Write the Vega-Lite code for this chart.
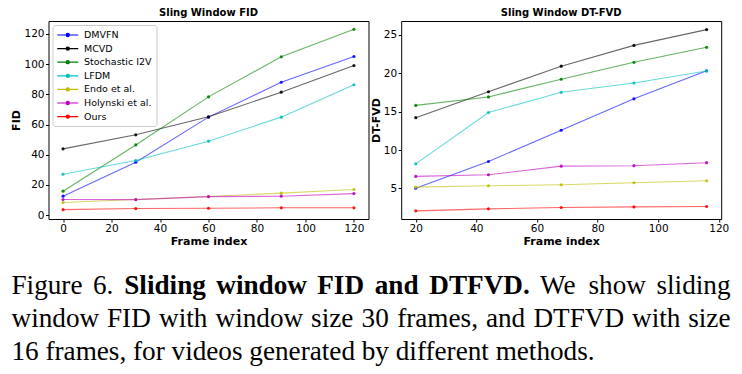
{
  "$schema": "https://vega.github.io/schema/vega-lite/v6.json",
  "padding": {"left": 9.5, "top": 7, "right": 0, "bottom": 0},
  "autosize": {"type": "pad"},
  "background": "white",
  "datasets": {
    "fid": [
      {"method": "DMVFN", "frame": 0, "value": 12.6}, {"method": "DMVFN", "frame": 30, "value": 35.1}, {"method": "DMVFN", "frame": 60, "value": 64.9}, {"method": "DMVFN", "frame": 90, "value": 88.0}, {"method": "DMVFN", "frame": 120, "value": 105.0},
      {"method": "MCVD", "frame": 0, "value": 43.9}, {"method": "MCVD", "frame": 30, "value": 53.2}, {"method": "MCVD", "frame": 60, "value": 65.1}, {"method": "MCVD", "frame": 90, "value": 81.4}, {"method": "MCVD", "frame": 120, "value": 99.0},
      {"method": "Stochastic I2V", "frame": 0, "value": 15.9}, {"method": "Stochastic I2V", "frame": 30, "value": 46.5}, {"method": "Stochastic I2V", "frame": 60, "value": 78.3}, {"method": "Stochastic I2V", "frame": 90, "value": 104.8}, {"method": "Stochastic I2V", "frame": 120, "value": 123.0},
      {"method": "LFDM", "frame": 0, "value": 27.1}, {"method": "LFDM", "frame": 30, "value": 36.2}, {"method": "LFDM", "frame": 60, "value": 49.0}, {"method": "LFDM", "frame": 90, "value": 64.9}, {"method": "LFDM", "frame": 120, "value": 86.3},
      {"method": "Endo et al.", "frame": 0, "value": 8.4}, {"method": "Endo et al.", "frame": 30, "value": 10.4}, {"method": "Endo et al.", "frame": 60, "value": 12.4}, {"method": "Endo et al.", "frame": 90, "value": 14.6}, {"method": "Endo et al.", "frame": 120, "value": 17.0},
      {"method": "Holynski et al.", "frame": 0, "value": 10.4}, {"method": "Holynski et al.", "frame": 30, "value": 10.3}, {"method": "Holynski et al.", "frame": 60, "value": 12.3}, {"method": "Holynski et al.", "frame": 90, "value": 12.6}, {"method": "Holynski et al.", "frame": 120, "value": 14.3},
      {"method": "Ours", "frame": 0, "value": 3.7}, {"method": "Ours", "frame": 30, "value": 4.4}, {"method": "Ours", "frame": 60, "value": 4.6}, {"method": "Ours", "frame": 90, "value": 4.9}, {"method": "Ours", "frame": 120, "value": 4.9}
    ],
    "fvd": [
      {"method": "DMVFN", "frame": 20, "value": 5.04}, {"method": "DMVFN", "frame": 44, "value": 8.5}, {"method": "DMVFN", "frame": 68, "value": 12.57}, {"method": "DMVFN", "frame": 92, "value": 16.65}, {"method": "DMVFN", "frame": 116, "value": 20.3},
      {"method": "MCVD", "frame": 20, "value": 14.2}, {"method": "MCVD", "frame": 44, "value": 17.57}, {"method": "MCVD", "frame": 68, "value": 20.9}, {"method": "MCVD", "frame": 92, "value": 23.6}, {"method": "MCVD", "frame": 116, "value": 25.65},
      {"method": "Stochastic I2V", "frame": 20, "value": 15.8}, {"method": "Stochastic I2V", "frame": 44, "value": 16.9}, {"method": "Stochastic I2V", "frame": 68, "value": 19.2}, {"method": "Stochastic I2V", "frame": 92, "value": 21.4}, {"method": "Stochastic I2V", "frame": 116, "value": 23.35},
      {"method": "LFDM", "frame": 20, "value": 8.2}, {"method": "LFDM", "frame": 44, "value": 14.87}, {"method": "LFDM", "frame": 68, "value": 17.5}, {"method": "LFDM", "frame": 92, "value": 18.7}, {"method": "LFDM", "frame": 116, "value": 20.26},
      {"method": "Endo et al.", "frame": 20, "value": 5.17}, {"method": "Endo et al.", "frame": 44, "value": 5.35}, {"method": "Endo et al.", "frame": 68, "value": 5.48}, {"method": "Endo et al.", "frame": 92, "value": 5.74}, {"method": "Endo et al.", "frame": 116, "value": 6.0},
      {"method": "Holynski et al.", "frame": 20, "value": 6.57}, {"method": "Holynski et al.", "frame": 44, "value": 6.78}, {"method": "Holynski et al.", "frame": 68, "value": 7.9}, {"method": "Holynski et al.", "frame": 92, "value": 7.96}, {"method": "Holynski et al.", "frame": 116, "value": 8.35},
      {"method": "Ours", "frame": 20, "value": 2.09}, {"method": "Ours", "frame": 44, "value": 2.35}, {"method": "Ours", "frame": 68, "value": 2.52}, {"method": "Ours", "frame": 92, "value": 2.6}, {"method": "Ours", "frame": 116, "value": 2.65}
    ],
    "blank": [{"k": 1}]
  },
  "config": {
    "font": "DejaVu Sans",
    "view": {"stroke": "black", "strokeWidth": 1},
    "axis": {"grid": false, "domain": false, "tickColor": "black", "tickSize": 3, "labelColor": "black", "labelFontSize": 10.5, "labelFont": "DejaVu Sans", "titleFont": "DejaVu Sans", "titleFontWeight": "bold", "titleFontSize": 11, "titleColor": "black", "labelPadding": 1.5},
    "axisX": {"titlePadding": 1},
    "axisY": {"titlePadding": 2},
    "title": {"fontSize": 10, "fontWeight": "bold", "font": "DejaVu Sans", "color": "black", "offset": 3},
    "text": {"font": "Liberation Serif", "fontSize": 27.2, "color": "black", "baseline": "alphabetic", "align": "left"}
  },
  "spacing": 32.7,
  "bounds": "flush",
  "resolve": {"legend": {"color": "independent"}},
  "hconcat": [
    {
      "width": 320,
      "height": 198,
      "title": "Sling Window FID",
      "layer": [
        {
          "data": {"name": "fid"},
          "mark": {"type": "line", "strokeWidth": 1.1, "opacity": 0.6, "point": {"filled": true, "size": 10, "opacity": 0.9}},
          "encoding": {
            "x": {"field": "frame", "type": "quantitative", "scale": {"domain": [-6, 126], "nice": false, "zero": false}, "axis": {"values": [0, 20, 40, 60, 80, 100, 120], "title": "Frame index"}},
            "y": {"field": "value", "type": "quantitative", "scale": {"domain": [-2.5, 128.5], "nice": false, "zero": false}, "axis": {"values": [0, 20, 40, 60, 80, 100, 120], "title": "FID"}},
            "color": {
              "field": "method", "type": "nominal",
              "scale": {"domain": ["DMVFN", "MCVD", "Stochastic I2V", "LFDM", "Endo et al.", "Holynski et al.", "Ours"], "range": ["#0000ff", "#000000", "#008000", "#00bfbf", "#bfbf00", "#bf00bf", "#ff0000"]},
              "legend": {
                "orient": "top-left", "offset": 4, "title": null, "padding": 4,
                "strokeColor": "#cccccc", "fillColor": "rgba(255,255,255,0.8)", "cornerRadius": 3,
                "labelFontSize": 9.5, "labelFont": "DejaVu Sans", "labelColor": "black",
                "symbolType": "M-2,0H2M-0.3,0A0.3,0.3,0,1,1,0.3,0A0.3,0.3,0,1,1,-0.3,0Z",
                "symbolSize": 110, "symbolStrokeWidth": 1.2, "symbolOpacity": 1,
                "symbolOffset": 5.25, "labelOffset": 10.25, "rowPadding": 2.6
              }
            }
          }
        },
        {"data": {"name": "blank"}, "mark": {"type": "text", "text": "Figure", "x": -37, "y": 272.5}},
        {"data": {"name": "blank"}, "mark": {"type": "text", "text": "6.", "x": 44.5, "y": 272.5}},
        {"data": {"name": "blank"}, "mark": {"type": "text", "text": "Sliding", "x": 75.75, "y": 272.5, "fontWeight": "bold"}},
        {"data": {"name": "blank"}, "mark": {"type": "text", "text": "window", "x": 167.75, "y": 272.5, "fontWeight": "bold"}},
        {"data": {"name": "blank"}, "mark": {"type": "text", "text": "FID", "x": 268.75, "y": 272.5, "fontWeight": "bold"}},
        {"data": {"name": "blank"}, "mark": {"type": "text", "text": "and", "x": 326.25, "y": 272.5, "fontWeight": "bold"}},
        {"data": {"name": "blank"}, "mark": {"type": "text", "text": "DTFVD.", "x": 380.75, "y": 272.5, "fontWeight": "bold"}},
        {"data": {"name": "blank"}, "mark": {"type": "text", "text": "We", "x": 491.5, "y": 272.5}},
        {"data": {"name": "blank"}, "mark": {"type": "text", "text": "show", "x": 540, "y": 272.5}},
        {"data": {"name": "blank"}, "mark": {"type": "text", "text": "sliding", "x": 682, "y": 272.5, "align": "right"}},
        {"data": {"name": "blank"}, "mark": {"type": "text", "text": "window", "x": -37, "y": 305.5}},
        {"data": {"name": "blank"}, "mark": {"type": "text", "text": "FID", "x": 58.5, "y": 305.5}},
        {"data": {"name": "blank"}, "mark": {"type": "text", "text": "with", "x": 110.5, "y": 305.5}},
        {"data": {"name": "blank"}, "mark": {"type": "text", "text": "window", "x": 167, "y": 305.5}},
        {"data": {"name": "blank"}, "mark": {"type": "text", "text": "size", "x": 262.6, "y": 305.5}},
        {"data": {"name": "blank"}, "mark": {"type": "text", "text": "30", "x": 313.1, "y": 305.5}},
        {"data": {"name": "blank"}, "mark": {"type": "text", "text": "frames,", "x": 348.7, "y": 305.5}},
        {"data": {"name": "blank"}, "mark": {"type": "text", "text": "and", "x": 437.4, "y": 305.5}},
        {"data": {"name": "blank"}, "mark": {"type": "text", "text": "DTFVD", "x": 484.9, "y": 305.5}},
        {"data": {"name": "blank"}, "mark": {"type": "text", "text": "with", "x": 583.5, "y": 305.5}},
        {"data": {"name": "blank"}, "mark": {"type": "text", "text": "size", "x": 682, "y": 305.5, "align": "right"}},
        {"data": {"name": "blank"}, "mark": {"type": "text", "text": "16 frames, for videos generated by different methods.", "x": -37, "y": 338.5}}
      ]
    },
    {
      "width": 320,
      "height": 198,
      "title": "Sling Window DT-FVD",
      "data": {"name": "fvd"},
      "mark": {"type": "line", "strokeWidth": 1.1, "opacity": 0.6, "point": {"filled": true, "size": 10, "opacity": 0.9}},
      "encoding": {
        "x": {"field": "frame", "type": "quantitative", "scale": {"domain": [15.2, 120.8], "nice": false, "zero": false}, "axis": {"values": [20, 40, 60, 80, 100, 120], "title": "Frame index"}},
        "y": {"field": "value", "type": "quantitative", "scale": {"domain": [1.03, 26.77], "nice": false, "zero": false}, "axis": {"values": [5, 10, 15, 20, 25], "title": "DT-FVD"}},
        "color": {"field": "method", "type": "nominal", "legend": null}
      }
    }
  ]
}
